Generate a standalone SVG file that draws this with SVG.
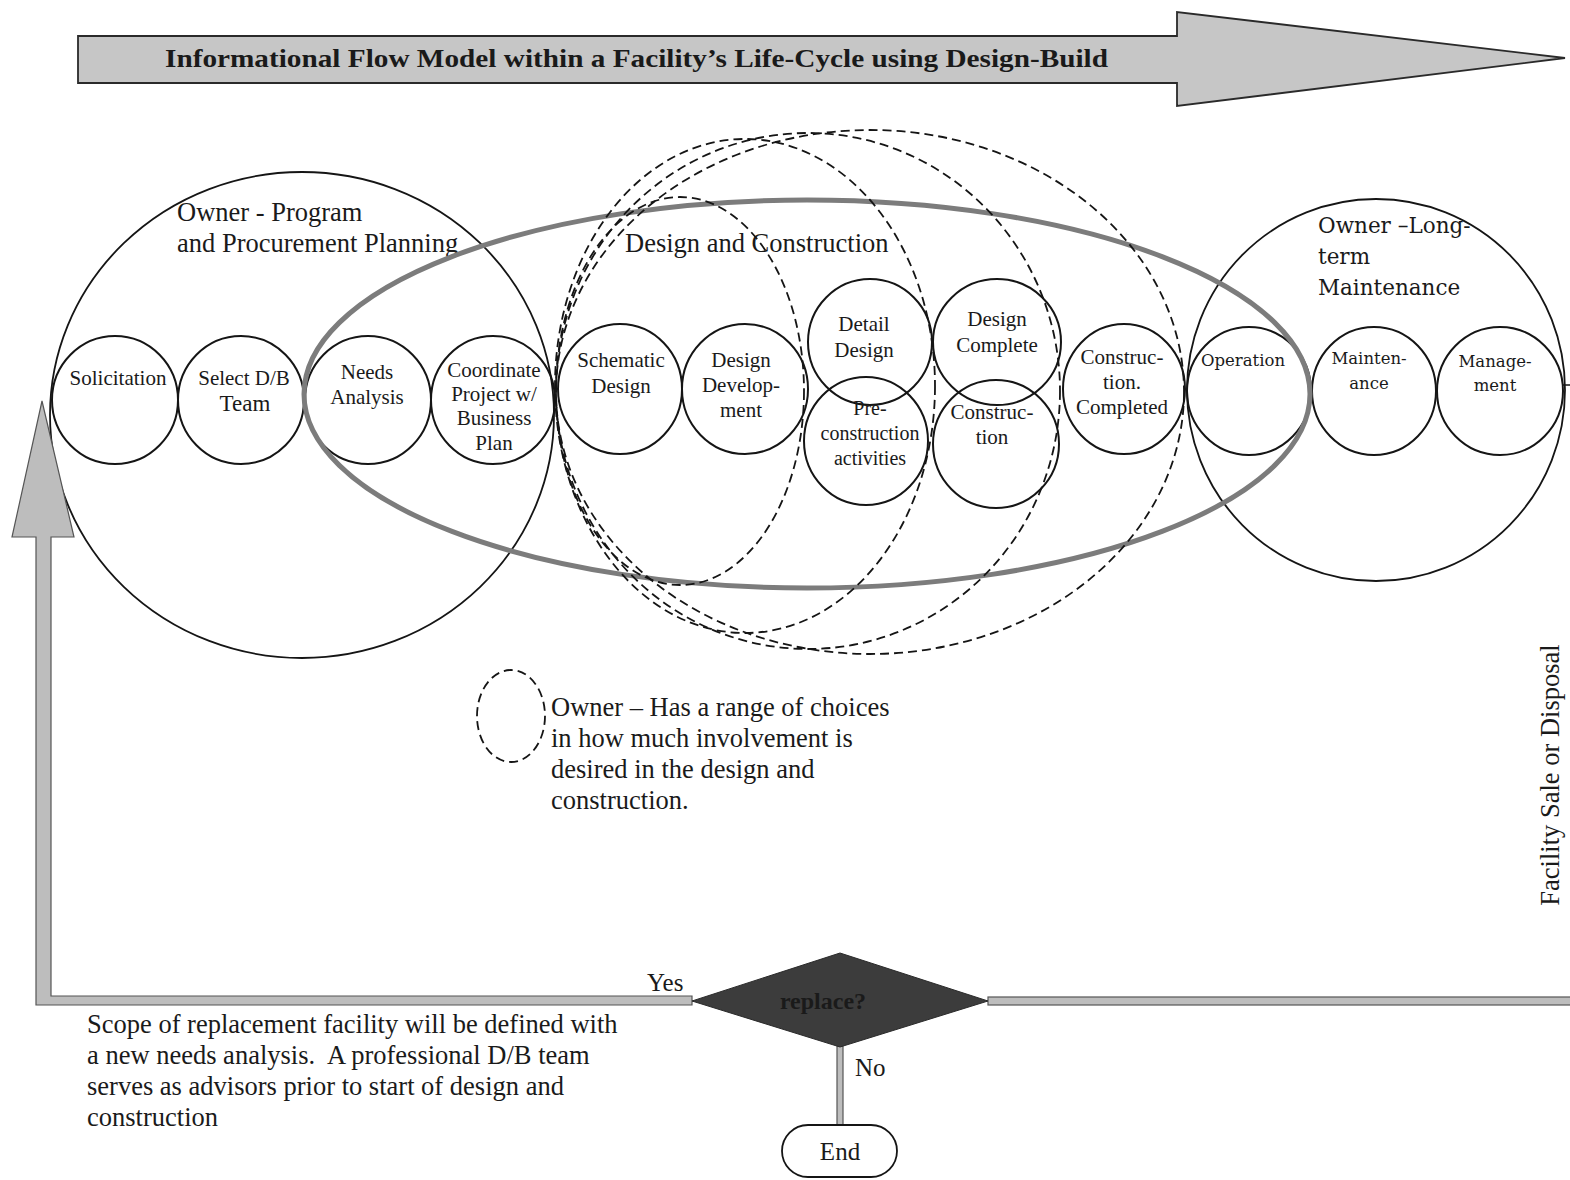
<svg xmlns="http://www.w3.org/2000/svg" width="1570" height="1180" viewBox="0 0 1570 1180">
  <style>
    .t { font-family: "Liberation Serif", "Times New Roman", serif; fill: #1a1a1a; }
    .s20 { font-size: 21px; }
    .s19 { font-size: 20px; }
    .s26 { font-size: 26.5px; }
    .c { text-anchor: middle; }
    .pre { white-space: pre; }
    .w { font-family: "DejaVu Serif", serif; fill: #1a1a1a; }
    .node { fill: none; stroke: #151515; stroke-width: 2; }
    .big { fill: none; stroke: #151515; stroke-width: 1.8; }
    .dash { fill: none; stroke: #151515; stroke-width: 1.8; stroke-dasharray: 9 5; }
    .band { fill: #bdbdbd; stroke: #555; stroke-width: 1.2; }
  </style>

  <!-- life-cycle banner arrow -->
  <g id="title-arrow">
    <polygon points="78,36 1177,36 1177,12 1565,58 1177,106 1177,83 78,83" fill="#c6c6c6" stroke="#2a2a2a" stroke-width="1.8"/>
    <text class="t" x="165" y="67" font-size="26" font-weight="bold" textLength="943" lengthAdjust="spacingAndGlyphs">Informational Flow Model within a Facility’s Life-Cycle using Design-Build</text>
  </g>

  <!-- phase envelopes -->
  <g id="owner-planning">
    <ellipse class="big" cx="302" cy="415" rx="252" ry="243"/>
    <text class="t s26" x="177" y="221">Owner - Program</text>
    <text class="t s26" x="177" y="252">and Procurement Planning</text>
  </g>

  <g id="owner-maintenance">
    <ellipse class="big" cx="1376" cy="390" rx="189" ry="191"/>
    <text class="w" font-size="21.5" x="1318" y="233">Owner –Long-</text>
    <text class="w" font-size="21.5" x="1318" y="264">term</text>
    <text class="w" font-size="21.5" x="1318" y="295">Maintenance</text>
  </g>

  <!-- activity nodes -->
  <g id="solicitation">
    <ellipse class="node" cx="115" cy="400" rx="63" ry="64"/>
    <text class="t s20 c" x="118" y="385">Solicitation</text>
  </g>
  <g id="select-db-team">
    <ellipse class="node" cx="241" cy="400" rx="63" ry="64"/>
    <text class="t s20 c" x="244" y="385">Select D/B</text>
    <text class="t c" font-size="23" x="245" y="411">Team</text>
  </g>
  <g id="needs-analysis">
    <ellipse class="node" cx="368" cy="400" rx="63" ry="64"/>
    <text class="t s20 c" x="367" y="379">Needs</text>
    <text class="t s20 c" x="367" y="404">Analysis</text>
  </g>
  <g id="coordinate-project">
    <ellipse class="node" cx="493" cy="400" rx="62" ry="64"/>
    <text class="t s20 c" x="494" y="377">Coordinate</text>
    <text class="t s20 c" x="494" y="401">Project w/</text>
    <text class="t s20 c" x="494" y="425">Business</text>
    <text class="t s20 c" x="494" y="450">Plan</text>
  </g>
  <g id="schematic-design">
    <ellipse class="node" cx="620" cy="389" rx="62" ry="65"/>
    <text class="t s20 c" x="621" y="367">Schematic</text>
    <text class="t s20 c" x="621" y="393">Design</text>
  </g>
  <g id="design-development">
    <ellipse class="node" cx="745" cy="389" rx="63" ry="65"/>
    <text class="t s20 c" x="741" y="367">Design</text>
    <text class="t s20 c" x="741" y="392">Develop-</text>
    <text class="t s20 c" x="741" y="417">ment</text>
  </g>
  <g id="detail-design">
    <ellipse class="node" cx="870" cy="342" rx="62" ry="63"/>
    <text class="t s20 c" x="864" y="331">Detail</text>
    <text class="t s20 c" x="864" y="357">Design</text>
  </g>
  <g id="preconstruction">
    <ellipse class="node" cx="866" cy="441" rx="62" ry="64"/>
    <text class="t s19 c" x="870" y="415">Pre-</text>
    <text class="t s19 c" x="870" y="440">construction</text>
    <text class="t s19 c" x="870" y="465">activities</text>
  </g>
  <g id="design-complete">
    <ellipse class="node" cx="997" cy="342" rx="64" ry="63"/>
    <text class="t s20 c" x="997" y="326">Design</text>
    <text class="t s20 c" x="997" y="352">Complete</text>
  </g>
  <g id="construction">
    <ellipse class="node" cx="996" cy="444" rx="63" ry="64"/>
    <text class="t s20 c" x="992" y="419">Construc-</text>
    <text class="t s20 c" x="992" y="444">tion</text>
  </g>
  <g id="construction-completed">
    <ellipse class="node" cx="1124" cy="389" rx="61" ry="65"/>
    <text class="t s20 c" x="1122" y="364">Construc-</text>
    <text class="t s20 c" x="1122" y="389">tion.</text>
    <text class="t s20 c" x="1122" y="414">Completed</text>
  </g>
  <g id="operation">
    <ellipse class="node" cx="1249" cy="391" rx="62" ry="64"/>
    <text class="w c" font-size="16.5" x="1243" y="366">Operation</text>
  </g>
  <g id="maintenance">
    <ellipse class="node" cx="1374" cy="391" rx="62" ry="64"/>
    <text class="w c" font-size="16.5" x="1369" y="364">Mainten-</text>
    <text class="w c" font-size="16.5" x="1369" y="389">ance</text>
  </g>
  <g id="management">
    <ellipse class="node" cx="1500" cy="391" rx="63" ry="64"/>
    <text class="w c" font-size="16.5" x="1495" y="367">Manage-</text>
    <text class="w c" font-size="16.5" x="1495" y="391">ment</text>
  </g>

  <!-- design-build envelope -->
  <g id="design-construction">
    <ellipse cx="807" cy="394" rx="503" ry="194" fill="none" stroke="#7c7c7c" stroke-width="5"/>
    <text class="t s26" x="625" y="252">Design and Construction</text>
  </g>

  <!-- owner involvement ranges -->
  <g id="owner-involvement">
    <ellipse class="dash" cx="680" cy="391" rx="124" ry="194"/>
    <ellipse class="dash" cx="745" cy="386" rx="190" ry="247"/>
    <ellipse class="dash" cx="808" cy="391" rx="252" ry="258"/>
    <ellipse class="dash" cx="870" cy="392" rx="314" ry="262"/>
  </g>

  <!-- legend -->
  <g id="legend">
    <ellipse class="dash" cx="511" cy="716" rx="34" ry="46"/>
    <text class="t s26" x="551" y="716">Owner – Has a range of choices</text>
    <text class="t s26" x="551" y="747">in how much involvement is</text>
    <text class="t s26" x="551" y="778">desired in the design and</text>
    <text class="t s26" x="551" y="809">construction.</text>
  </g>

  <!-- flow connectors -->
  <g id="connectors">
    <polygon class="band" points="42,401 74,537 51,537 51,996 692,996 692,1005 36,1005 36,537 12,537"/>
    <rect class="band" x="988" y="997" width="590" height="8"/>
    <rect class="band" x="837" y="1046" width="6" height="80"/>
    <line x1="1563" y1="385" x2="1570" y2="385" stroke="#151515" stroke-width="1.5"/>
  </g>

  <g id="sale-disposal">
    <text class="t c" font-size="26.5" transform="translate(1559,775) rotate(-90)">Facility Sale or Disposal</text>
  </g>

  <g id="replace-decision">
    <polygon points="692,1001 840,953 988,1001 840,1047" fill="#3c3c3c" stroke="#2a2a2a" stroke-width="1"/>
    <text class="t c" x="823" y="1009" font-size="24" font-weight="bold" fill="#161616">replace?</text>
    <text class="t" x="647" y="991" font-size="25">Yes</text>
    <text class="t" x="855" y="1076" font-size="25">No</text>
  </g>

  <g id="end">
    <rect x="782" y="1125" width="115" height="52" rx="26" ry="26" fill="#fff" stroke="#151515" stroke-width="1.8"/>
    <text class="t c" x="840" y="1160" font-size="25">End</text>
  </g>

  <g id="replacement-note">
    <text class="t s26 pre" x="87" y="1033">Scope of replacement facility will be defined with</text>
    <text class="t s26 pre" x="87" y="1064">a new needs analysis.  A professional D/B team</text>
    <text class="t s26 pre" x="87" y="1095">serves as advisors prior to start of design and</text>
    <text class="t s26 pre" x="87" y="1126">construction</text>
  </g>
</svg>
